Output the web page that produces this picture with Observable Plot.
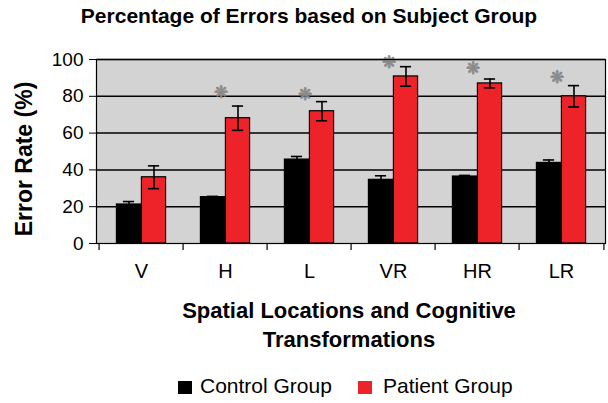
<!DOCTYPE html>
<html>
<head>
<meta charset="utf-8">
<script src="https://cdn.jsdelivr.net/npm/d3@7"></script>
<script src="https://cdn.jsdelivr.net/npm/@observablehq/plot@0.6"></script>
<style>
  html, body { margin: 0; padding: 0; background: #fff; }
  #wrap { position: relative; width: 608px; height: 403px; font-family: "Liberation Sans", Arial, Helvetica, sans-serif; color: #000; overflow: hidden; }
  #wrap svg { position: absolute; left: 0; top: 0; }
  .abs { position: absolute; white-space: nowrap; }
  #title { left: 309px; top: 5px; transform: translateX(-50%); font-weight: bold; font-size: 21px; line-height: 21px; }
  #xtitle { left: 349px; top: 296px; transform: translateX(-50%); font-weight: bold; font-size: 22px; line-height: 29px; text-align: center; }
  #ytitle { left: 24px; top: 159px; transform: translate(-50%, -50%) rotate(-90deg); font-weight: bold; font-size: 23px; line-height: 23px; }
  .lg-sw { position: absolute; width: 14px; height: 13px; top: 381px; }
  .lg-tx { position: absolute; top: 375px; font-size: 21px; line-height: 21px; white-space: nowrap; }
</style>
</head>
<body>
<div id="wrap">
  <div id="chart"></div>
  <div id="title" class="abs">Percentage of Errors based on Subject Group</div>
  <div id="xtitle" class="abs">Spatial Locations and Cognitive<br>Transformations</div>
  <div id="ytitle" class="abs">Error Rate (%)</div>
</div>
<script>
const categories = ["V", "H", "L", "VR", "HR", "LR"];
const groups = ["Control Group", "Patient Group"];
const groupColors = ["#000000", "#ee2229"];
const controlMean = [21.2, 25.2, 45.6, 34.6, 36.4, 43.8];
const controlErr = [1.6, 0.4, 1.7, 2.2, 0.6, 1.6];
const patientMean = [36.0, 68.1, 71.9, 90.8, 87.0, 80.0];
const patientErr = [6.2, 6.6, 5.2, 5.3, 2.4, 5.8];
const significant = ["H", "L", "VR", "HR", "LR"];
const starLevel = [82.3, 81.0, 98.5, 95.0, 90.4];
const yTicks = [0, 20, 40, 60, 80, 100];
const gridLines = [20, 40, 60, 80, 100];

const W = 608, H = 403;
const mL = 96, mR = 3, mT = 59, mB = 160;
const bw = (W - mL - mR) / categories.length;
const barW = 25;
const capHalf = 6;

const control = categories.map((c, i) => ({cat: c, group: groups[0], mean: controlMean[i], err: controlErr[i]}));
const patient = categories.map((c, i) => ({cat: c, group: groups[1], mean: patientMean[i], err: patientErr[i]}));
const stars = significant.map((c, i) => ({cat: c, level: starLevel[i]}));

function errMarks(rows, off) {
  return [
    Plot.ruleX(rows, {x: "cat", y1: d => d.mean - d.err, y2: d => d.mean + d.err, dx: off, stroke: "#000", strokeWidth: 1.6}),
    Plot.tickY(rows, {x: "cat", y: d => d.mean + d.err, stroke: "#000", strokeWidth: 1.6,
      insetLeft: bw / 2 + off - capHalf, insetRight: bw / 2 - off - capHalf}),
    Plot.tickY(rows, {x: "cat", y: d => d.mean - d.err, stroke: "#000", strokeWidth: 1.6,
      insetLeft: bw / 2 + off - capHalf, insetRight: bw / 2 - off - capHalf})
  ];
}

const chart = Plot.plot({
  width: W, height: H,
  marginLeft: mL, marginRight: mR, marginTop: mT, marginBottom: mB,
  style: {fontFamily: '"Liberation Sans", Arial, Helvetica, sans-serif', fontSize: "19px", color: "#000", background: "transparent"},
  x: {domain: categories, padding: 0, label: null},
  y: {domain: [0, 100], label: null},
  color: {domain: groups, range: groupColors},
  marks: [
    Plot.frame({fill: "#d3d3d3", stroke: null}),
    Plot.ruleY(gridLines, {stroke: "#000", strokeWidth: 1.5}),
    Plot.barY(control, {x: "cat", y: "mean", fill: "group", stroke: "#000", strokeWidth: 1.2,
      insetLeft: bw / 2 - barW, insetRight: bw / 2}),
    Plot.barY(patient, {x: "cat", y: "mean", fill: "group", stroke: "#000", strokeWidth: 1.2,
      insetLeft: bw / 2, insetRight: bw / 2 - barW}),
    ...errMarks(control, -barW / 2),
    ...errMarks(patient, barW / 2),
    Plot.text(stars, {x: "cat", y: "level", text: () => "❋", dx: -5, fill: "#8c8c8c", stroke: "#555", strokeWidth: 0.4, fontSize: 17}),
    Plot.frame({stroke: "#000", strokeWidth: 1.2}),
    Plot.ruleX(categories, {x: d => d, y1: 0, y2: 0, dx: -bw / 2, insetBottom: -7, stroke: "#000", strokeWidth: 1.2}),
    Plot.ruleX([categories[categories.length - 1]], {x: d => d, y1: 0, y2: 0, dx: bw / 2, insetBottom: -7, stroke: "#000", strokeWidth: 1.2}),
    Plot.axisY({ticks: yTicks, tickSize: 7, tickPadding: 6, fontSize: 19, label: null, stroke: "#000"}),
    Plot.axisX({tickSize: 0, tickPadding: 20, fontSize: 20, label: null})
  ]
});
document.getElementById("chart").appendChild(chart);

const wrap = d3.select("#wrap");
const swatchLeft = [178, 358];
const textLeft = [200, 383];
groups.forEach((g, i) => {
  wrap.append("div").attr("class", "lg-sw").style("left", swatchLeft[i] + "px").style("background", groupColors[i]);
  wrap.append("div").attr("class", "lg-tx").style("left", textLeft[i] + "px").text(g);
});
</script>
</body>
</html>
